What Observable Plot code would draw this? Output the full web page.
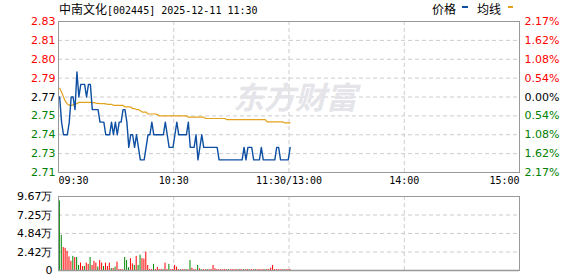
<!DOCTYPE html>
<html>
<head>
<meta charset="utf-8">
<script src="https://cdn.jsdelivr.net/npm/d3@7"></script>
<script src="https://cdn.jsdelivr.net/npm/@observablehq/plot@0.6"></script>
<style>
  html, body { margin: 0; padding: 0; background: #fff; }
  #wrap { position: relative; width: 578px; height: 276px; background: #fff; overflow: hidden; }
  #price, #vol { position: absolute; left: 0; }
  #price { top: 0; }
  #vol { top: 190px; }
  .hdr { position: absolute; top: 0; height: 16px; line-height: 16px; white-space: nowrap; color: #000; }
  .cjk { font: 12px "Noto Sans CJK SC", sans-serif; }
  .mono { font: 10px "DejaVu Sans Mono", monospace; }
  .key { position: absolute; top: 6px; width: 6px; height: 2px; }
</style>
</head>
<body>
<div id="wrap">
  <div id="price"></div>
  <div id="vol"></div>
  <div class="hdr" style="left:59px"><span class="cjk">中南文化</span><span class="mono">[002445] 2025-12-11 11:30</span></div>
  <div class="hdr cjk" style="left:432px">价格</div>
  <div class="key" style="left:462px;background:#0d4fa2"></div>
  <div class="hdr cjk" style="left:477px">均线</div>
  <div class="key" style="left:508px;width:5px;background:#e3a21a"></div>
</div>
<script>
const preClose = 2.77;
const priceTicks = [2.83, 2.815, 2.80, 2.785, 2.77, 2.755, 2.74, 2.725, 2.71];
const priceTickLabels = ["2.83", "2.81", "2.80", "2.79", "2.77", "2.75", "2.74", "2.73", "2.71"];
const pctTickLabels = ["2.17%", "1.62%", "1.08%", "0.54%", "0.00%", "0.54%", "1.08%", "1.62%", "2.17%"];
const timeTicks = [0, 60, 120, 180, 240];
const timeTickLabels = ["09:30", "10:30", "11:30/13:00", "14:00", "15:00"];
const volTicks = [0, 2.42, 4.84, 7.25, 9.67];
const volTickLabels = ["0", "2.42万", "4.84万", "7.25万", "9.67万"];

// minute prices 09:30 .. 11:30
const price = [
  2.77, 2.75, 2.74, 2.74, 2.74, 2.75, 2.77, 2.77, 2.76, 2.79,
  2.77, 2.78, 2.78, 2.78, 2.77, 2.78, 2.78, 2.76, 2.76, 2.76,
  2.76, 2.75, 2.75, 2.75, 2.74, 2.74, 2.74, 2.75, 2.74, 2.75,
  2.74, 2.75, 2.75, 2.76, 2.76, 2.75, 2.73, 2.74, 2.74, 2.73,
  2.74, 2.73, 2.72, 2.72, 2.72, 2.73, 2.74, 2.74, 2.75, 2.74,
  2.74, 2.74, 2.74, 2.74, 2.74, 2.75, 2.74, 2.73, 2.73, 2.73,
  2.74, 2.75, 2.74, 2.74, 2.74, 2.74, 2.74, 2.75, 2.73, 2.73,
  2.73, 2.74, 2.72, 2.73, 2.74, 2.73, 2.73, 2.73, 2.73, 2.73,
  2.73, 2.73, 2.73, 2.72, 2.72, 2.72, 2.72, 2.72, 2.72, 2.72,
  2.72, 2.72, 2.72, 2.72, 2.72, 2.72, 2.73, 2.72, 2.73, 2.73,
  2.73, 2.72, 2.72, 2.72, 2.72, 2.73, 2.72, 2.72, 2.72, 2.72,
  2.72, 2.72, 2.72, 2.73, 2.73, 2.72, 2.72, 2.72, 2.72, 2.72,
  2.73
];

// average price line
const avgPrice = [
  2.7770, 2.7740, 2.7700, 2.7665, 2.7645, 2.7634, 2.7634, 2.7638, 2.7642, 2.7647,
  2.7658, 2.7658, 2.7658, 2.7658, 2.7658, 2.7658, 2.7658, 2.7655, 2.7655, 2.7650,
  2.7650, 2.7647, 2.7647, 2.7647, 2.7645, 2.7642, 2.7642, 2.7642, 2.7634, 2.7634,
  2.7634, 2.7634, 2.7634, 2.7634, 2.7621, 2.7621, 2.7621, 2.7621, 2.7608, 2.7608,
  2.7600, 2.7600, 2.7590, 2.7580, 2.7580, 2.7580, 2.7565, 2.7565, 2.7565, 2.7565,
  2.7565, 2.7560, 2.7550, 2.7550, 2.7550, 2.7550, 2.7550, 2.7550, 2.7550, 2.7550,
  2.7550, 2.7550, 2.7550, 2.7550, 2.7550, 2.7550, 2.7550, 2.7540, 2.7540, 2.7540,
  2.7540, 2.7540, 2.7540, 2.7540, 2.7540, 2.7540, 2.7529, 2.7529, 2.7529, 2.7529,
  2.7529, 2.7529, 2.7529, 2.7529, 2.7529, 2.7529, 2.7529, 2.7520, 2.7520, 2.7520,
  2.7520, 2.7520, 2.7520, 2.7520, 2.7520, 2.7520, 2.7520, 2.7520, 2.7520, 2.7520,
  2.7520, 2.7520, 2.7520, 2.7520, 2.7520, 2.7520, 2.7520, 2.7520, 2.7503, 2.7503,
  2.7503, 2.7503, 2.7503, 2.7503, 2.7503, 2.7503, 2.7503, 2.7495, 2.7495, 2.7495,
  2.7495
];

// minute volume (万手)
const volume = [
  9.10, 4.60, 3.00, 2.90, 2.50, 1.77, 1.20, 1.85, 1.70, 1.70,
  0.66, 0.97, 0.53, 0.53, 0.97, 0.80, 1.70, 0.66, 1.20, 0.97,
  0.44, 1.30, 0.97, 0.53, 0.97, 0.53, 0.97, 0.26, 0.26, 0.44,
  1.10, 0.13, 0.13, 0.10, 1.70, 1.30, 0.35, 1.55, 0.88, 0.66,
  1.85, 0.66, 2.00, 1.55, 1.50, 2.40, 0.66, 0.13, 0.12, 0.80,
  0.12, 0.40, 0.12, 0.15, 0.12, 0.97, 0.13, 0.80, 0.12, 0.13,
  0.66, 0.44, 0.12, 0.10, 0.12, 0.12, 0.10, 0.12, 1.30, 0.30,
  0.12, 0.10, 0.66, 0.22, 0.10, 0.12, 0.10, 0.12, 0.10, 0.12,
  0.66, 0.22, 0.12, 0.10, 0.12, 0.10, 0.12, 0.10, 0.12, 0.10,
  0.12, 0.10, 0.12, 0.10, 0.12, 0.10, 0.12, 0.10, 0.12, 0.10,
  0.12, 0.10, 0.12, 0.10, 0.12, 0.10, 0.12, 0.10, 0.12, 0.13,
  0.30, 0.66, 0.12, 0.10, 0.12, 0.10, 0.12, 0.10, 0.12, 0.10,
  0.12
];
// u = up (red), d = down (green)
const volDir = [
  "d","d","u","u","u","u","u","d","u","d",
  "d","u","u","d","u","u","d","u","u","u",
  "d","u","u","d","u","u","u","d","u","d",
  "u","u","u","u","d","d","d","u","u","d",
  "u","d","d","u","u","u","u","u","u","d",
  "u","u","u","u","d","u","u","d","u","u",
  "u","u","u","d","u","u","d","u","d","u",
  "u","u","d","u","d","u","u","d","u","u",
  "u","u","u","u","u","u","u","u","d","u",
  "u","u","u","d","u","u","d","u","u","d",
  "u","u","d","u","u","u","u","d","u","u",
  "u","u","u","u","u","u","u","d","u","u",
  "u"
];

const RED = "#ff0000", GREEN = "#008000", UPBAR = "#ff0000", DOWNBAR = "#008800";
const GRID = {stroke: "#cccccc", strokeOpacity: 1, strokeDasharray: "4,3", strokeWidth: 1};
const axisFont = "DejaVu Sans";
const tickColor = d => d > preClose + 1e-9 ? RED : d < preClose - 1e-9 ? GREEN : "#000000";
const timeData = timeTicks.map((t, i) => ({t, label: timeTickLabels[i]}));

const pricePlot = Plot.plot({
  width: 578, height: 195,
  marginLeft: 58, marginRight: 59, marginTop: 21, marginBottom: 23,
  x: {domain: [0, 240], axis: null},
  y: {domain: [2.71, 2.83], axis: null},
  color: {type: "identity"},
  style: {background: "transparent", overflow: "visible"},
  marks: [
    Plot.ruleY(priceTicks.slice(1, -1), GRID),
    Plot.ruleX(timeTicks.slice(1, -1), GRID),
    Plot.text(["东方财富"], {text: d => d, frameAnchor: "middle", dx: 6, dy: 2, fontSize: 31, fontWeight: "bold", fontStyle: "italic", fontFamily: "Noto Sans CJK SC", fill: "#e4e4e9"}),
    Plot.frame({stroke: "#999999"}),
    Plot.line(avgPrice, {x: (d, i) => i + 0.6, y: d => d, stroke: "#e3a21a", strokeWidth: 1.2}),
    Plot.line(price, {x: (d, i) => i + 0.6, y: d => d, stroke: "#0d4fa2", strokeWidth: 1.4}),
    Plot.text(priceTicks, {y: d => d, text: (d, i) => priceTickLabels[i], frameAnchor: "left", dx: -3, textAnchor: "end", fill: tickColor, fontSize: 11, fontFamily: axisFont}),
    Plot.text(priceTicks, {y: d => d, text: (d, i) => pctTickLabels[i], frameAnchor: "right", dx: 5, textAnchor: "start", fill: tickColor, fontSize: 11, fontFamily: axisFont}),
    Plot.text(timeData.slice(0, 1), {x: "t", text: "label", frameAnchor: "bottom", dy: 11, textAnchor: "start", fontSize: 10, fontFamily: "DejaVu Sans Mono", fill: "#000"}),
    Plot.text(timeData.slice(1, -1), {x: "t", text: "label", frameAnchor: "bottom", dy: 11, textAnchor: "middle", fontSize: 10, fontFamily: "DejaVu Sans Mono", fill: "#000"}),
    Plot.text(timeData.slice(-1), {x: "t", text: "label", frameAnchor: "bottom", dy: 11, textAnchor: "end", fontSize: 10, fontFamily: "DejaVu Sans Mono", fill: "#000"})
  ]
});
document.getElementById("price").appendChild(pricePlot);

const volPlot = Plot.plot({
  width: 578, height: 86,
  marginLeft: 58, marginRight: 59, marginTop: 6, marginBottom: 6,
  x: {domain: [0, 240], axis: null},
  y: {domain: [0, 9.67], axis: null},
  color: {type: "identity"},
  style: {background: "transparent", overflow: "visible"},
  marks: [
    Plot.ruleY(volTicks.slice(1, -1), GRID),
    Plot.ruleX(timeTicks.slice(1, -1), GRID),
    Plot.rect(volume, {x1: (d, i) => i + 0.45, x2: (d, i) => i + 0.97, y1: 0, y2: d => d, fill: (d, i) => volDir[i] === "u" ? UPBAR : DOWNBAR}),
    Plot.frame({stroke: "#999999"}),
    Plot.ruleY([0], {stroke: "#999999", strokeWidth: 1.5}),
    Plot.text(volTicks, {y: d => d, text: (d, i) => volTickLabels[i], frameAnchor: "left", dx: -6, textAnchor: "end", fill: "#000", fontSize: 11, fontFamily: axisFont})
  ]
});
document.getElementById("vol").appendChild(volPlot);
</script>
</body>
</html>
